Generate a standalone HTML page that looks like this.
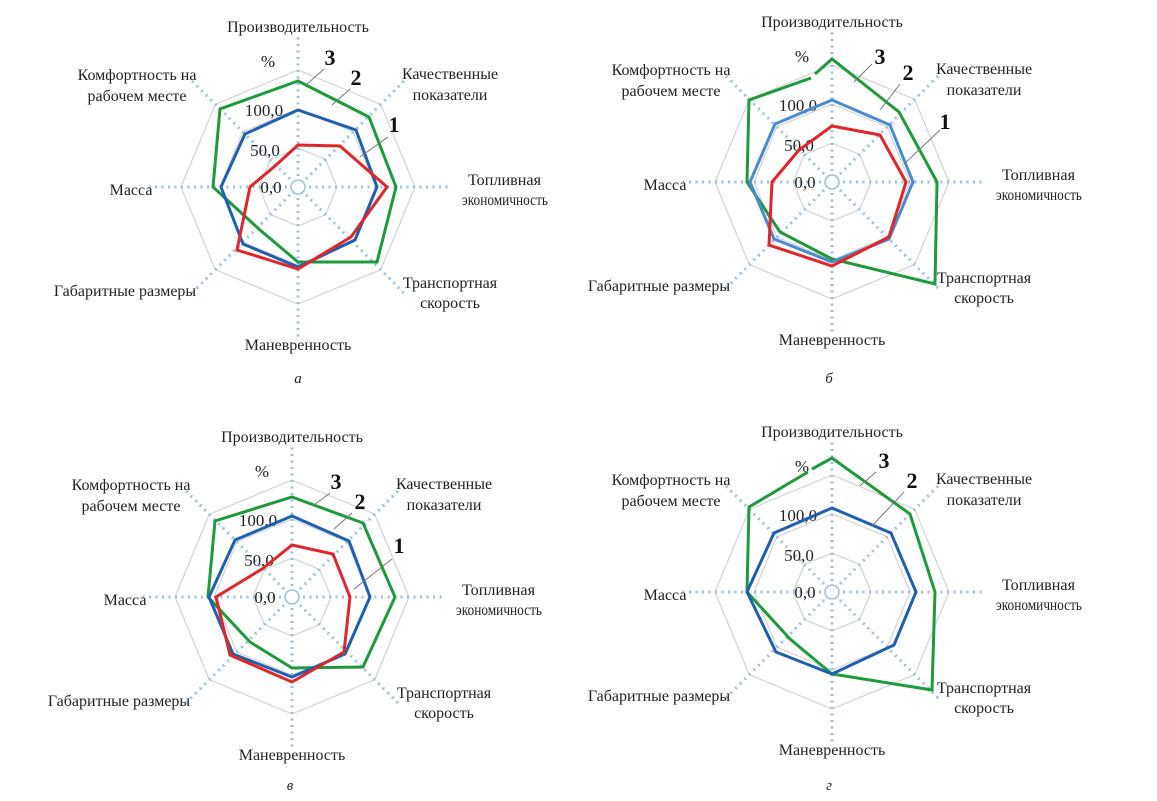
<!DOCTYPE html>
<html><head><meta charset="utf-8"><style>
html,body{margin:0;padding:0;background:#fff;}
svg{display:block;}
text{font-family:"Liberation Serif",serif;font-size:16px;fill:#222;}
.n{font-size:22px;font-weight:bold;fill:#111;}
.t{font-size:16px;}
.e{font-size:15.5px;}
.s{font-size:17px;}
.l{font-size:15px;font-style:italic;}
</style></head><body>
<svg width="1157" height="801" viewBox="0 0 1157 801" xmlns="http://www.w3.org/2000/svg">
<defs>
<g id="grid">
 <g fill="none" stroke="#d4d4d4" stroke-width="1.2">
  <polygon points="0,-39 27.6,-27.6 39,0 27.6,27.6 0,39 -27.6,27.6 -39,0 -27.6,-27.6"/>
  <polygon points="0,-78 55.2,-55.2 78,0 55.2,55.2 0,78 -55.2,55.2 -78,0 -55.2,-55.2"/>
  <polygon points="0,-117 82.7,-82.7 117,0 82.7,82.7 0,117 -82.7,82.7 -117,0 -82.7,-82.7"/>
 </g>
 <g stroke="#9cc0e0" stroke-width="3" stroke-dasharray="2,4.5">
  <line x1="0" y1="-11" x2="0" y2="-150"/>
  <line x1="0" y1="11" x2="0" y2="150"/>
  <line x1="11" y1="0" x2="150" y2="0"/>
  <line x1="-11" y1="0" x2="-150" y2="0"/>
  <line x1="8" y1="-8" x2="106" y2="-106"/>
  <line x1="-8" y1="-8" x2="-106" y2="-106"/>
  <line x1="8" y1="8" x2="106" y2="106"/>
  <line x1="-8" y1="8" x2="-106" y2="106"/>
 </g>
 <circle cx="0" cy="0" r="7" fill="none" stroke="#9cc0e0" stroke-width="1.5"/>
</g>
<g id="labels">
 <text class="t" x="0" y="-155" text-anchor="middle">Производительность</text>
 <text x="152" y="-108" text-anchor="middle">Качественные</text>
 <text x="152" y="-87" text-anchor="middle">показатели</text>
 <text class="e" x="170" y="-2" textLength="73" lengthAdjust="spacingAndGlyphs">Топливная</text>
 <text class="e" x="164" y="18" textLength="86" lengthAdjust="spacingAndGlyphs">экономичность</text>
 <text x="152" y="101" text-anchor="middle">Транспортная</text>
 <text x="152" y="121" text-anchor="middle">скорость</text>
 <text x="0" y="163" text-anchor="middle">Маневренность</text>
 <text x="-173" y="109" text-anchor="middle">Габаритные размеры</text>
 <text x="-167" y="8" text-anchor="middle">Масса</text>
 <text x="-161" y="-107" text-anchor="middle">Комфортность на</text>
 <text x="-161" y="-86" text-anchor="middle">рабочем месте</text>
 <text class="s" x="-30" y="-120" text-anchor="middle">%</text>
 <text class="s" x="-34" y="-71" text-anchor="middle">100,0</text>
 <text class="s" x="-33" y="-31" text-anchor="middle">50,0</text>
 <text class="s" x="-27" y="6" text-anchor="middle">0,0</text>
</g>
</defs>

<!-- a -->
<g transform="translate(298,187)">
 <use href="#grid"/><use href="#labels"/>
 <g fill="none" stroke-width="3" stroke-linejoin="miter">
  <polygon stroke="#1e9a3c" points="0,-106 71,-70 98,0 79,75 0,75 -38,43 -85,0 -78,-78"/>
  <polygon stroke="#1f5fb0" points="0,-77 58,-57 79,0 57,53 0,80 -55,57 -77,0 -53,-53"/>
  <polygon stroke="#e0262a" points="0,-42 42,-41 89,0 53,50 0,82 -61,63 -48,0 -23,-21"/>
 </g>
 <g stroke="#777" stroke-width="1" fill="none">
  <line x1="26" y1="-118" x2="8" y2="-102"/>
  <line x1="52" y1="-98" x2="34" y2="-82"/>
  <line x1="90" y1="-50" x2="62" y2="-30"/>
 </g>
 <text class="n" x="32" y="-122" text-anchor="middle">3</text>
 <text class="n" x="58" y="-102" text-anchor="middle">2</text>
 <text class="n" x="96" y="-55" text-anchor="middle">1</text>
 <text class="l" x="0" y="196" text-anchor="middle">а</text>
</g>

<!-- б -->
<g transform="translate(832,182)">
 <use href="#grid"/><use href="#labels"/>
 <g fill="none" stroke-width="3">
  <polyline stroke="#1e9a3c" points="-17,-108 0,-123 67,-70 105,0 103,102 0,77 -52,50 -85,0 -83,-82 -21,-104"/>
  <polygon stroke="#4a8ad0" points="0,-82 58,-57 81,0 57,57 0,80 -58,57 -82,0 -57,-58"/>
  <polygon stroke="#e0262a" points="0,-56 48,-47 74,0 57,55 0,84 -63,63 -60,0 -33,-32"/>
 </g>
 <g stroke="#777" stroke-width="1" fill="none">
  <line x1="40" y1="-118" x2="22" y2="-100"/>
  <line x1="68" y1="-98" x2="48" y2="-72"/>
  <line x1="108" y1="-52" x2="72" y2="-18"/>
 </g>
 <text class="n" x="48" y="-118" text-anchor="middle">3</text>
 <text class="n" x="76" y="-102" text-anchor="middle">2</text>
 <text class="n" x="113" y="-53" text-anchor="middle">1</text>
 <text class="l" x="-3" y="201" text-anchor="middle">б</text>
</g>

<!-- в -->
<g transform="translate(292,597)">
 <use href="#grid"/><use href="#labels"/>
 <g fill="none" stroke-width="3">
  <polygon stroke="#1e9a3c" points="0,-100 71,-74 103,0 71,70 0,71 -42,45 -84,0 -77,-76"/>
  <polygon stroke="#1f5fb0" points="0,-81 57,-56 78,0 53,57 0,80 -59,57 -83,0 -57,-57"/>
  <polygon stroke="#e0262a" points="0,-52 41,-43 58,0 52,55 0,85 -62,58 -76,0 -30,-28"/>
 </g>
 <g stroke="#777" stroke-width="1" fill="none">
  <line x1="38" y1="-104" x2="22" y2="-92"/>
  <line x1="60" y1="-84" x2="42" y2="-68"/>
  <line x1="100" y1="-38" x2="62" y2="-8"/>
 </g>
 <text class="n" x="44" y="-108" text-anchor="middle">3</text>
 <text class="n" x="68" y="-88" text-anchor="middle">2</text>
 <text class="n" x="107" y="-44" text-anchor="middle">1</text>
 <text class="l" x="-2" y="193" text-anchor="middle">в</text>
</g>

<!-- г -->
<g transform="translate(832,592)">
 <use href="#grid"/><use href="#labels"/>
 <g fill="none" stroke-width="3">
  <polyline stroke="#1e9a3c" points="-20,-123 0,-134 78,-78 103,0 100,98 0,82 -42,47 -85,0 -83,-85 -24,-120"/>
  <polygon stroke="#1f5fb0" points="0,-84 59,-59 84,0 62,53 0,82 -56,60 -85,0 -58,-59"/>
 </g>
 <g stroke="#777" stroke-width="1" fill="none">
  <line x1="44" y1="-120" x2="28" y2="-106"/>
  <line x1="72" y1="-100" x2="40" y2="-66"/>
 </g>
 <text class="n" x="52" y="-124" text-anchor="middle">3</text>
 <text class="n" x="80" y="-104" text-anchor="middle">2</text>
 <text class="l" x="-3" y="198" text-anchor="middle">г</text>
</g>
</svg>
</body></html>
